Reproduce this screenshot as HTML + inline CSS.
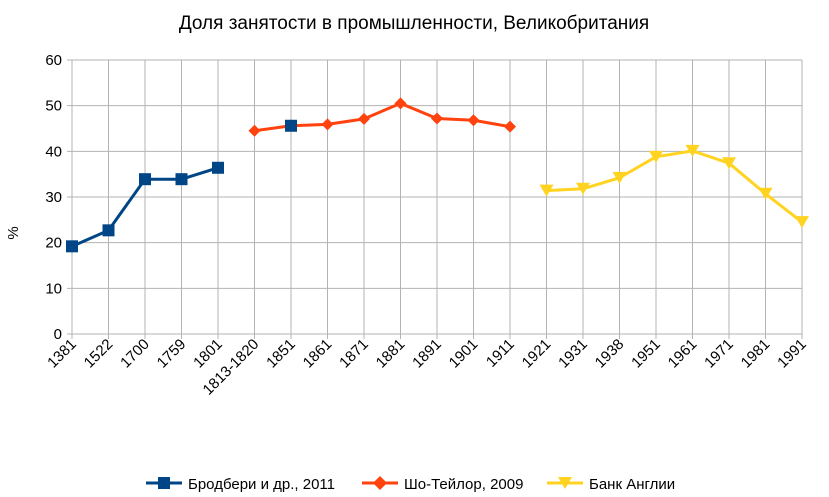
<!DOCTYPE html>
<html><head><meta charset="utf-8"><style>
body{margin:0;background:#fff;}
svg{display:block;font-family:"Liberation Sans",sans-serif;}
</style></head><body>
<svg id="c" width="829" height="497">
<text x="414" y="29" text-anchor="middle" font-size="19" fill="#000">Доля занятости в промышленности, Великобритания</text>
<text transform="translate(18,233) rotate(-90)" text-anchor="middle" font-size="15">%</text>
<g id="grid"></g><g id="series"></g>
<g>
<g><line x1="146" y1="483" x2="182" y2="483" stroke="#004586" stroke-width="3"/><rect x="158" y="477" width="12" height="12" fill="#004586"/><text x="188" y="489" font-size="15">Бродбери и др., 2011</text></g>
<g><line x1="362" y1="483" x2="398" y2="483" stroke="#ff420e" stroke-width="3"/><path d="M380 476L387 483L380 490L373 483Z" fill="#ff420e"/><text x="404" y="489" font-size="15">Шо-Тейлор, 2009</text></g>
<g><line x1="547" y1="483" x2="583" y2="483" stroke="#ffd320" stroke-width="3"/><path d="M558 477L572 477L565 489Z" fill="#ffd320"/><text x="589" y="489" font-size="15">Банк Англии</text></g>
</g>
</svg>
<script>
const categories=["1381","1522","1700","1759","1801","1813-1820","1851","1861","1871","1881","1891","1901","1911","1921","1931","1938","1951","1961","1971","1981","1991"];
const brodberry=[19.2,22.7,33.9,33.9,36.4,null,45.6,null,null,null,null,null,null,null,null,null,null,null,null,null,null];
const shawTaylor=[null,null,null,null,null,44.5,45.6,45.9,47.1,50.5,47.2,46.8,45.4,null,null,null,null,null,null,null,null];
const bank=[null,null,null,null,null,null,null,null,null,null,null,null,null,31.4,31.8,34.2,38.8,40.1,37.4,30.7,24.5];
const yTicks=[0,10,20,30,40,50,60];
const X0=72,X1=802,Y0=334,Y1=60;
const xs=i=>X0+i*(X1-X0)/(categories.length-1);
const ys=v=>Y0-(v/60)*(Y0-Y1);
const NS="http://www.w3.org/2000/svg";
function mk(t,a,p){const e=document.createElementNS(NS,t);for(const k in a)e.setAttribute(k,a[k]);p.appendChild(e);return e;}
const g=document.getElementById('grid'),s=document.getElementById('series');
yTicks.forEach(v=>{
 const l=mk('line',{x1:X0-5,x2:X1,y1:ys(v),y2:ys(v),stroke:'#b3b3b3','stroke-width':1},g);
 
 
 const t=mk('text',{x:X0-10,y:ys(v)+5,'text-anchor':'end','font-size':15},g);t.textContent=v;
 
 
});
categories.forEach((c,i)=>{
 const x=xs(i);
 const l=mk('line',{x1:x,x2:x,y1:Y1,y2:Y0+5,stroke:'#b3b3b3','stroke-width':1},g);
 
 
 const t=mk('text',{transform:`translate(${x+5},${Y0+11}) rotate(-45)`,'text-anchor':'end','font-size':15},g);t.textContent=c;
 
 
});
function series(data,color,shape,name){
 let d='',pen=false;
 data.forEach((v,i)=>{if(v==null){pen=false;return;}d+=(pen?'L':'M')+xs(i)+' '+ys(v);pen=true;});
 const p=mk('path',{d:d,fill:'none',stroke:color,'stroke-width':3,'stroke-linejoin':'round'},s);
 
 
 data.forEach((v,i)=>{if(v==null)return;const x=xs(i),y=ys(v);let m;
  if(shape==='sq')m=mk('rect',{x:x-6,y:y-6,width:12,height:12,fill:color},s);
  else if(shape==='di')m=mk('path',{d:`M${x} ${y-6}L${x+6} ${y}L${x} ${y+6}L${x-6} ${y}Z`,fill:color},s);
  else m=mk('path',{d:`M${x-7} ${y-6}L${x+7} ${y-6}L${x} ${y+6}Z`,fill:color},s);
  
  
 });
}
series(shawTaylor,'#ff420e','di','shaw-taylor');
series(brodberry,'#004586','sq','brodberry');
series(bank,'#ffd320','tri','bank-of-england');
</script>
</body></html>
